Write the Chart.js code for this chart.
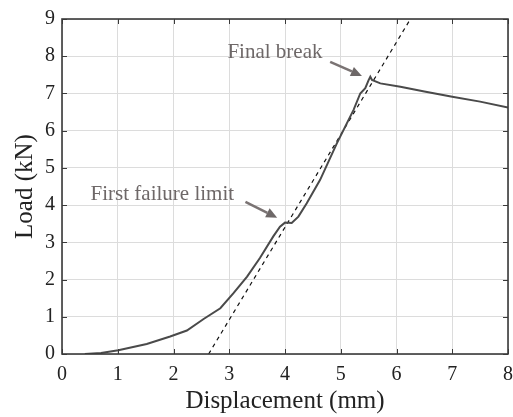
<!DOCTYPE html>
<html>
<head>
<meta charset="utf-8">
<script src="https://cdn.jsdelivr.net/npm/chart.js@4.4.1/dist/chart.umd.min.js"></script>
<style>
  html, body { margin: 0; padding: 0; background: #fff; }
  #wrap { width: 513px; height: 417px; }
</style>
</head>
<body>
<div id="wrap"><canvas id="loadChart" width="513" height="417"></canvas></div>
<script>
// Measured curve (displacement mm / load kN)
const dispX = [0.41, 0.7, 1.01, 1.52, 1.94, 2.24, 2.54, 2.84, 3.08, 3.32, 3.55, 3.79, 3.91, 4.0, 4.12, 4.24, 4.39, 4.63, 4.93, 5.08, 5.23, 5.35, 5.44, 5.5, 5.53, 5.56, 5.71, 6.07, 6.5, 7.0, 7.5, 8.0];
const loadY = [0, 0.03, 0.1, 0.27, 0.47, 0.63, 0.94, 1.23, 1.64, 2.08, 2.58, 3.16, 3.42, 3.53, 3.52, 3.69, 4.05, 4.68, 5.66, 6.11, 6.56, 7.0, 7.14, 7.36, 7.45, 7.36, 7.27, 7.18, 7.05, 6.91, 6.78, 6.62];

// Linear fit (dashed)
const fitX = [2.63, 6.25];
const fitY = [0, 9];

// Tick labels
const xTicks = [0, 1, 2, 3, 4, 5, 6, 7, 8];
const yTicks = [0, 1, 2, 3, 4, 5, 6, 7, 8, 9];

// Annotations: label, label position, arrow start, arrow tip (data coords)
const noteText = ['Final break', 'First failure limit'];
const noteAt = [[3.82, 8.09], [1.80, 4.28]];
const arrowFrom = [[4.81, 7.85], [3.29, 4.09]];
const arrowTo = [[5.38, 7.47], [3.86, 3.66]];

const serif = "'Liberation Serif', 'DejaVu Serif', serif";
const toPoints = (xs, ys) => xs.map((x, i) => ({ x: x, y: ys[i] }));

// box, inward ticks, annotations
const extras = {
  id: 'extras',
  afterDatasetsDraw(chart) {
    const { ctx, chartArea: a, scales: { x, y } } = chart;
    ctx.save();
    ctx.strokeStyle = '#3a3a3a';
    ctx.lineWidth = 1;
    const tl = 5;
    ctx.beginPath();
    xTicks.forEach(v => {
      const px = Math.round(x.getPixelForValue(v)) + 0.5;
      ctx.moveTo(px, a.bottom); ctx.lineTo(px, a.bottom - tl);
      ctx.moveTo(px, a.top); ctx.lineTo(px, a.top + tl);
    });
    yTicks.forEach(v => {
      const py = Math.round(y.getPixelForValue(v)) + 0.5;
      ctx.moveTo(a.left, py); ctx.lineTo(a.left + tl, py);
      ctx.moveTo(a.right, py); ctx.lineTo(a.right - tl, py);
    });
    ctx.stroke();
    ctx.lineWidth = 1.6;
    ctx.strokeRect(a.left, a.top, a.right - a.left, a.bottom - a.top);

    // annotations
    ctx.fillStyle = '#6e6868';
    ctx.strokeStyle = '#7a7373';
    ctx.font = '21px ' + serif;
    ctx.textAlign = 'center';
    ctx.textBaseline = 'middle';
    noteText.forEach((t, i) => {
      ctx.fillText(t, x.getPixelForValue(noteAt[i][0]), y.getPixelForValue(noteAt[i][1]));
      const x0 = x.getPixelForValue(arrowFrom[i][0]), y0 = y.getPixelForValue(arrowFrom[i][1]);
      const x1 = x.getPixelForValue(arrowTo[i][0]), y1 = y.getPixelForValue(arrowTo[i][1]);
      const ang = Math.atan2(y1 - y0, x1 - x0);
      const hl = 11, hw = 5;
      const bx = x1 - hl * Math.cos(ang), by = y1 - hl * Math.sin(ang);
      ctx.lineWidth = 2.5;
      ctx.beginPath();
      ctx.moveTo(x0, y0); ctx.lineTo(bx, by);
      ctx.stroke();
      ctx.beginPath();
      ctx.moveTo(x1, y1);
      ctx.lineTo(bx + hw * Math.sin(ang), by - hw * Math.cos(ang));
      ctx.lineTo(bx - hw * Math.sin(ang), by + hw * Math.cos(ang));
      ctx.closePath();
      ctx.fill();
    });
    ctx.restore();
  }
};

new Chart(document.getElementById('loadChart'), {
  type: 'scatter',
  data: {
    datasets: [
      {
        data: toPoints(dispX, loadY),
        showLine: true,
        borderColor: '#4a4a4a',
        borderWidth: 2,
        pointRadius: 0,
        tension: 0
      },
      {
        data: toPoints(fitX, fitY),
        showLine: true,
        borderColor: '#111',
        borderWidth: 1.2,
        borderDash: [4, 4],
        pointRadius: 0
      }
    ]
  },
  options: {
    responsive: false,
    animation: false,
    layout: { padding: { top: 19, right: 5, left: 0, bottom: 0 } },
    plugins: { legend: { display: false }, tooltip: { enabled: false } },
    scales: {
      x: {
        type: 'linear', min: 0, max: 8,
        afterFit: s => { s.height = 63; s.paddingLeft = 0; s.paddingRight = 0; },
        afterBuildTicks: s => { s.ticks = xTicks.map(v => ({ value: v })); },
        grid: { color: '#dcdcdc', drawTicks: false },
        border: { display: false },
        ticks: { color: '#222', padding: 9, font: { family: serif, size: 20 } },
        title: { display: true, text: 'Displacement (mm)', color: '#222', padding: { top: 0, bottom: 1 }, font: { family: serif, size: 25 } }
      },
      y: {
        type: 'linear', min: 0, max: 9,
        afterFit: s => { s.width = 62; s.paddingTop = 0; s.paddingBottom = 0; },
        afterBuildTicks: s => { s.ticks = yTicks.map(v => ({ value: v })); },
        grid: { color: '#dcdcdc', drawTicks: false },
        border: { display: false },
        ticks: { color: '#222', padding: 7, font: { family: serif, size: 20 } },
        title: { display: true, text: 'Load (kN)', color: '#222', padding: { top: 10, bottom: 0 }, font: { family: serif, size: 25 } }
      }
    }
  },
  plugins: [extras]
});
</script>
</body>
</html>
